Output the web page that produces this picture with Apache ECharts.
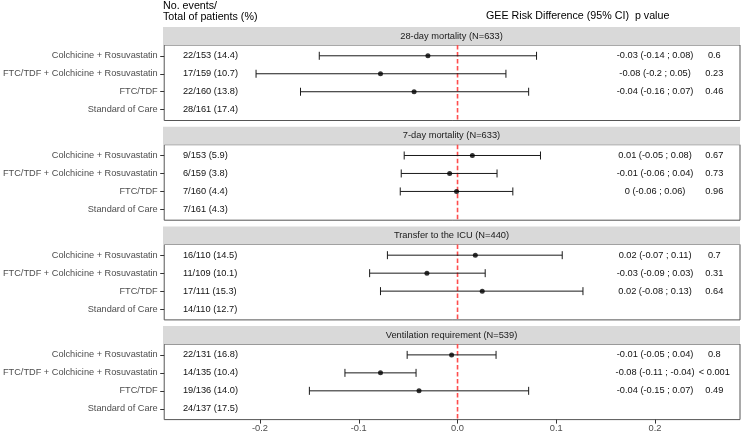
<!DOCTYPE html>
<html>
<head>
<meta charset="utf-8">
<script src="https://cdn.jsdelivr.net/npm/echarts@6/dist/echarts.min.js"></script>
<style>html,body{margin:0;padding:0;background:#fff;}#c{width:742px;height:433px;}</style>
</head>
<body>
<div id="c"></div>
<script>
// ---------------- data ----------------
const categories = ['Colchicine + Rosuvastatin', 'FTC/TDF + Colchicine + Rosuvastatin', 'FTC/TDF', 'Standard of Care'];
const facetTitles = ['28-day mortality (N=633)', '7-day mortality (N=633)', 'Transfer to the ICU (N=440)', 'Ventilation requirement (N=539)'];
const xTickValues = [-0.2, -0.1, 0, 0.1, 0.2];
const xTickLabels = ['-0.2', '-0.1', '0.0', '0.1', '0.2'];
const referenceX = 0;

const counts28 = ['22/153 (14.4)', '17/159 (10.7)', '22/160 (13.8)', '28/161 (17.4)'];
const est28 = [-0.030, -0.078, -0.044];
const lo28 = [-0.140, -0.204, -0.159];
const hi28 = [0.080, 0.049, 0.072];
const ci28 = ['-0.03 (-0.14 ; 0.08)', '-0.08 (-0.2 ; 0.05)', '-0.04 (-0.16 ; 0.07)'];
const p28 = ['0.6', '0.23', '0.46'];

const counts7 = ['9/153 (5.9)', '6/159 (3.8)', '7/160 (4.4)', '7/161 (4.3)'];
const est7 = [0.015, -0.008, -0.001];
const lo7 = [-0.054, -0.057, -0.058];
const hi7 = [0.084, 0.040, 0.056];
const ci7 = ['0.01 (-0.05 ; 0.08)', '-0.01 (-0.06 ; 0.04)', '0 (-0.06 ; 0.06)'];
const p7 = ['0.67', '0.73', '0.96'];

const countsICU = ['16/110 (14.5)', '11/109 (10.1)', '17/111 (15.3)', '14/110 (12.7)'];
const estICU = [0.018, -0.031, 0.025];
const loICU = [-0.071, -0.089, -0.078];
const hiICU = [0.106, 0.028, 0.127];
const ciICU = ['0.02 (-0.07 ; 0.11)', '-0.03 (-0.09 ; 0.03)', '0.02 (-0.08 ; 0.13)'];
const pICU = ['0.7', '0.31', '0.64'];

const countsVent = ['22/131 (16.8)', '14/135 (10.4)', '19/136 (14.0)', '24/137 (17.5)'];
const estVent = [-0.006, -0.078, -0.039];
const loVent = [-0.051, -0.114, -0.150];
const hiVent = [0.039, -0.042, 0.072];
const ciVent = ['-0.01 (-0.05 ; 0.04)', '-0.08 (-0.11 ; -0.04)', '-0.04 (-0.15 ; 0.07)'];
const pVent = ['0.8', '< 0.001', '0.49'];

// ---------------- layout / style ----------------
const FAM = '"Liberation Sans", Arial, Helvetica, sans-serif';
const X_MIN = -0.297, X_MAX = 0.286;
const Y_MIN = -0.6, Y_MAX = 3.6;
const COUNT_X = -0.278, CI_X = 0.2, P_X = 0.26;
const GRID_LEFT = 163, GRID_W = 577;
const TOP0 = 45, STEP = 99.7, PANEL_H = 75.5, STRIP_H = 18;

const facets = [
  {counts: counts28, est: est28, lo: lo28, hi: hi28, ci: ci28, p: p28},
  {counts: counts7, est: est7, lo: lo7, hi: hi7, ci: ci7, p: p7},
  {counts: countsICU, est: estICU, lo: loICU, hi: hiICU, ci: ciICU, p: pICU},
  {counts: countsVent, est: estVent, lo: loVent, hi: hiVent, ci: ciVent, p: pVent}
];

const grids = [], xAxes = [], yAxes = [], series = [], graphics = [];

facets.forEach((f, i) => {
  const top = TOP0 + i * STEP;
  grids.push({left: GRID_LEFT, top: top, width: GRID_W, height: PANEL_H, show: true,
    backgroundColor: '#ffffff', borderColor: '#555555', borderWidth: 1});
  const last = i === facets.length - 1;
  xAxes.push({
    gridIndex: i, type: 'value', min: X_MIN, max: X_MAX,
    axisLine: {show: false, onZero: false}, splitLine: {show: false},
    axisTick: {show: last, customValues: xTickValues, length: 4, lineStyle: {color: '#333333', width: 1}},
    axisLabel: {show: last, customValues: xTickValues, color: '#4d4d4d', fontSize: 9.3, fontFamily: FAM, margin: 4,
      formatter: v => { const k = xTickValues.findIndex(t => Math.abs(t - v) < 1e-9); return k >= 0 ? xTickLabels[k] : ''; }}
  });
  yAxes.push({
    gridIndex: i, type: 'value', inverse: true, min: Y_MIN, max: Y_MAX,
    axisLine: {show: false, onZero: false}, splitLine: {show: false},
    axisTick: {show: true, customValues: [0, 1, 2, 3], length: 4, lineStyle: {color: '#333333', width: 1}},
    axisLabel: {show: true, customValues: [0, 1, 2, 3], color: '#4d4d4d', fontSize: 9.2, fontFamily: FAM, margin: 6.5,
      formatter: v => categories[Math.round(v)] || ''}
  });

  // reference line at x = 0 (red dashed)
  series.push({
    type: 'custom', xAxisIndex: i, yAxisIndex: i, silent: true, clip: false, z: 1,
    data: [[referenceX, Y_MIN, Y_MAX]],
    encode: {x: 0, y: [1, 2]},
    renderItem: (params, api) => {
      const a = api.coord([api.value(0), api.value(1)]);
      const b = api.coord([api.value(0), api.value(2)]);
      return {type: 'line', shape: {x1: a[0], y1: a[1], x2: b[0], y2: b[1]},
        style: {stroke: '#ff4d4d', lineWidth: 1.6, lineDash: [4.5, 2.5]}};
    }
  });

  // error bars
  series.push({
    type: 'custom', xAxisIndex: i, yAxisIndex: i, silent: true, clip: false, z: 2,
    data: f.lo.map((l, j) => [l, f.hi[j], j]),
    encode: {x: [0, 1], y: 2},
    renderItem: (params, api) => {
      const y = api.value(2);
      const a = api.coord([api.value(0), y]);
      const b = api.coord([api.value(1), y]);
      const st = {stroke: '#1a1a1a', lineWidth: 1};
      return {type: 'group', children: [
        {type: 'line', shape: {x1: a[0], y1: a[1], x2: b[0], y2: b[1]}, style: st},
        {type: 'line', shape: {x1: a[0], y1: a[1] - 4, x2: a[0], y2: a[1] + 4}, style: st},
        {type: 'line', shape: {x1: b[0], y1: b[1] - 4, x2: b[0], y2: b[1] + 4}, style: st}
      ]};
    }
  });

  // points
  series.push({
    type: 'scatter', xAxisIndex: i, yAxisIndex: i, silent: true, z: 3,
    data: f.est.map((e, j) => [e, j]),
    symbol: 'circle', symbolSize: 5, itemStyle: {color: '#000000'}
  });

  // text columns
  const items = [];
  f.counts.forEach((t, j) => items.push({x: COUNT_X, row: j, text: t, align: 'left'}));
  f.ci.forEach((t, j) => items.push({x: CI_X, row: j, text: t, align: 'center'}));
  f.p.forEach((t, j) => items.push({x: P_X, row: j, text: t, align: 'center'}));
  series.push({
    type: 'custom', xAxisIndex: i, yAxisIndex: i, silent: true, clip: false, z: 4,
    data: items.map(it => [it.x, it.row]),
    encode: {x: 0, y: 1},
    renderItem: (params, api) => {
      const it = items[params.dataIndex];
      const pt = api.coord([api.value(0), api.value(1)]);
      return {type: 'text', x: pt[0], y: pt[1], style: {text: it.text, align: it.align, verticalAlign: 'middle',
        fontSize: 9.25, fontFamily: FAM, fill: '#111111'}};
    }
  });

  // facet strip
  graphics.push({type: 'rect', left: GRID_LEFT, top: top - STRIP_H, shape: {width: GRID_W, height: STRIP_H},
    style: {fill: '#d9d9d9'}, silent: true});
  graphics.push({type: 'text', x: GRID_LEFT + GRID_W / 2, y: top - STRIP_H / 2,
    style: {text: facetTitles[i], align: 'center', verticalAlign: 'middle', fontSize: 9.3, fontFamily: FAM, fill: '#1a1a1a'}, silent: true});
});

// column headers
graphics.push({type: 'text', x: GRID_LEFT, y: 6.5,
  style: {text: 'No. events/', align: 'left', verticalAlign: 'middle', fontSize: 10.7, fontFamily: FAM, fill: '#000000'}});
graphics.push({type: 'text', x: GRID_LEFT, y: 17.5,
  style: {text: 'Total of patients (%)', align: 'left', verticalAlign: 'middle', fontSize: 10.7, fontFamily: FAM, fill: '#000000'}});
graphics.push({type: 'text', x: 486, y: 16.5,
  style: {text: 'GEE Risk Difference (95% CI)  p value', align: 'left', verticalAlign: 'middle', fontSize: 10.7, fontFamily: FAM, fill: '#000000'}});

const chart = echarts.init(document.getElementById('c'), null, {renderer: 'canvas'});
chart.setOption({
  animation: false,
  backgroundColor: '#ffffff',
  grid: grids, xAxis: xAxes, yAxis: yAxes, series: series, graphic: graphics
});
</script>
</body>
</html>
